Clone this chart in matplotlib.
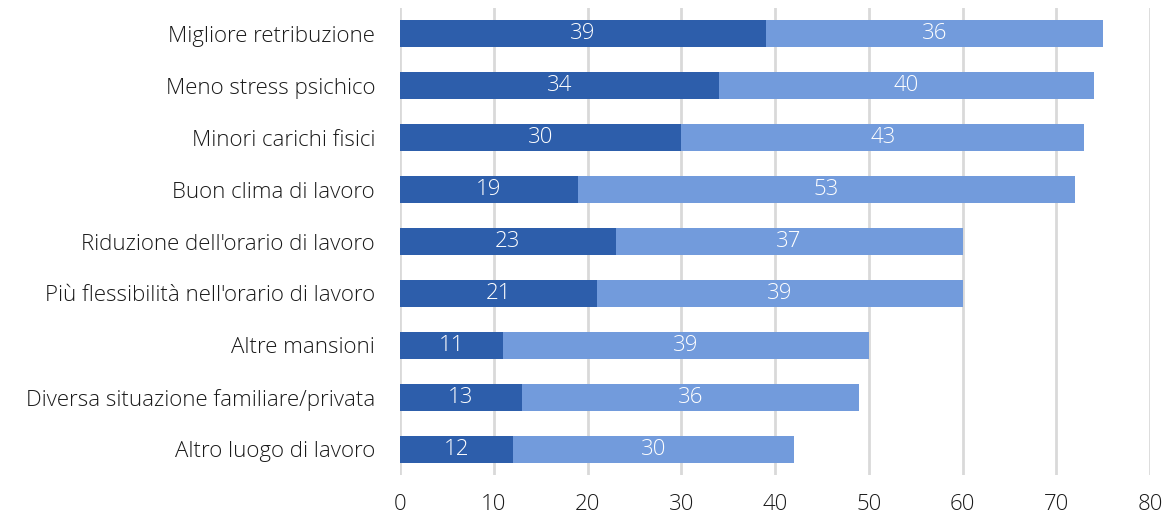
import numpy as np
import matplotlib.pyplot as plt

categories = ["Migliore retribuzione", "Meno stress psichico", "Minori carichi fisici",
              "Buon clima di lavoro", "Riduzione dell'orario di lavoro",
              "Più flessibilità nell'orario di lavoro", "Altre mansioni",
              "Diversa situazione familiare/privata", "Altro luogo di lavoro"]
serie_a = [39, 34, 30, 19, 23, 21, 11, 13, 12]
serie_b = [36, 40, 43, 53, 37, 39, 39, 36, 30]
x_ticks = [0, 10, 20, 30, 40, 50, 60, 70, 80]

dark = "#2d5eab"
light = "#729bdc"

plt.rcParams['font.family'] = ['Open Sans', 'DejaVu Sans']
fw = 'light'
fs = 16

fig = plt.figure(figsize=(11.64, 5.18), dpi=100)
ax = fig.add_axes([400/1164, 1-475/518, 750/1164, 467/518])

y = np.arange(len(categories))
h = 0.52
ax.barh(y, serie_a, height=h, color=dark, zorder=3)
ax.barh(y, serie_b, left=serie_a, height=h, color=light, zorder=3)

for i in range(len(categories)):
    ax.text(serie_a[i]/2, y[i], str(serie_a[i]), ha='center', va='center',
            color='white', fontsize=fs, fontweight=fw, zorder=4)
    ax.text(serie_a[i] + serie_b[i]/2, y[i], str(serie_b[i]), ha='center', va='center',
            color='white', fontsize=fs, fontweight=fw, zorder=4)

ax.set_ylim(len(categories) - 0.5, -0.5)
ax.set_xlim(0, 80)
ax.set_yticks(y)
ax.set_yticklabels(categories, fontsize=fs, fontweight=fw, color='#1a1a1a')
ax.set_xticks(x_ticks)
ax.set_xticklabels([str(t) for t in x_ticks], fontsize=fs, fontweight=fw, color='#1a1a1a')
ax.tick_params(axis='both', length=0)
ax.tick_params(axis='y', pad=18)
ax.tick_params(axis='x', pad=14)
ax.grid(axis='x', color='#d9d9d9', linewidth=2, zorder=0)
for s in ax.spines.values():
    s.set_visible(False)

fig.savefig("out.png", dpi=100)
